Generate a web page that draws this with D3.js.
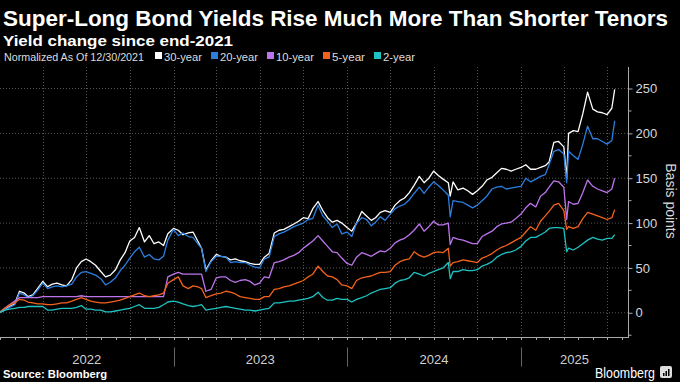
<!DOCTYPE html>
<html><head><meta charset="utf-8">
<script src="https://cdn.jsdelivr.net/npm/d3@7"></script>
<style>body{margin:0;background:#000;} svg{display:block;}</style>
</head><body>
<svg id="c" width="680" height="382"></svg>
<script>
const dates = [
"2021-12-30","2022-01-11","2022-01-21","2022-02-01","2022-02-11","2022-02-21","2022-03-01","2022-03-11","2022-03-21",
"2022-04-01","2022-04-11","2022-04-21","2022-05-01","2022-05-11","2022-05-21","2022-06-01","2022-06-11","2022-06-21",
"2022-07-01","2022-07-11","2022-07-21","2022-08-01","2022-08-11","2022-08-21","2022-09-01","2022-09-11","2022-09-21",
"2022-10-01","2022-10-11","2022-10-21","2022-11-01","2022-11-11","2022-11-21","2022-12-01","2022-12-11","2022-12-20",
"2023-01-01","2023-01-11","2023-01-21","2023-02-01","2023-02-11","2023-02-21","2023-03-01","2023-03-10","2023-03-21",
"2023-04-01","2023-04-11","2023-04-21","2023-05-01","2023-05-11","2023-05-21","2023-06-01","2023-06-11","2023-06-21",
"2023-07-01","2023-07-11","2023-07-21","2023-08-01","2023-08-11","2023-08-21","2023-09-01","2023-09-11","2023-09-21",
"2023-10-01","2023-10-11","2023-10-21","2023-11-01","2023-11-11","2023-11-21","2023-12-01","2023-12-11","2023-12-21",
"2024-01-01","2024-01-11","2024-01-21","2024-02-01","2024-02-11","2024-02-21","2024-03-01","2024-03-11","2024-03-21",
"2024-04-01","2024-04-11","2024-04-21","2024-05-01","2024-05-11","2024-05-21","2024-06-01","2024-06-11","2024-06-21",
"2024-07-01","2024-07-11","2024-07-21","2024-08-01","2024-08-05","2024-08-11","2024-08-21","2024-09-01","2024-09-11","2024-09-21",
"2024-10-01","2024-10-11","2024-10-21","2024-11-01","2024-11-11","2024-11-21","2024-12-01","2024-12-11","2024-12-21",
"2025-01-01","2025-01-11","2025-01-21","2025-02-01","2025-02-11","2025-02-21","2025-03-01","2025-03-11","2025-03-21",
"2025-04-01","2025-04-07","2025-04-11","2025-04-21","2025-05-01","2025-05-11","2025-05-21","2025-06-01","2025-06-11","2025-06-21",
"2025-07-01","2025-07-11","2025-07-17"];

const y30 = [0,3,7,10,24,22,18,20,27,35,29,32,33,31,30,37,50,57,60,57,53,46,40,42,48,59,67,80,84,95,79,86,77,79,75,88,
94,92,87,89,90,80,72,48,58,65,63,62,59,60,58,57,55,54,54,62,66,89,92,93,96,99,102,106,105,116,124,114,106,101,103,100,
95,91,100,113,108,103,106,112,114,112,120,125,128,134,142,152,145,150,158,153,149,145,130,146,137,139,136,132,136,141,148,151,156,161,160,158,160,
162,165,160,160,162,164,168,190,191,185,150,200,203,202,222,246,227,224,223,221,228,249];

const y20 = [0,3,6,9,22,20,17,19,25,33,27,29,30,29,30,32,40,45,46,44,42,38,31,34,39,47,53,61,68,73,62,65,60,59,63,81,
93,86,89,85,84,77,72,46,57,63,63,62,56,57,56,56,53,51,50,60,62,85,88,90,93,96,98,100,104,105,120,108,102,95,99,88,
90,85,100,106,104,97,101,107,103,110,116,119,121,126,133,140,133,140,146,142,137,131,107,125,124,123,120,117,120,125,130,138,140,141,138,139,140,
141,150,146,149,152,154,165,180,182,177,145,180,175,171,188,208,194,194,191,188,192,214];

const y10 = [0,5,9,13,17,17,17,17,17,18,18,18,18,18,18,18,18,19,18,18,18,18,18,18,18,18,18,18,18,18,18,18,18,18,18,40,
43,45,43,43,43,43,43,24,26,39,40,40,36,34,36,37,35,31,33,40,39,56,57,59,62,64,67,72,76,80,86,80,74,68,67,61,
55,53,62,67,65,63,66,69,68,72,78,81,83,87,92,99,91,96,102,98,98,100,76,84,82,81,79,77,77,85,88,91,96,99,100,101,105,
110,117,122,118,130,134,140,147,146,140,104,124,121,122,134,148,141,138,136,134,138,150];

const y5 = [0,5,9,11,15,14,12,11,10,10,9,9,10,11,11,13,15,17,15,13,12,11,11,12,13,14,16,18,20,22,19,18,19,20,22,33,
37,40,30,27,30,29,27,17,19,21,22,24,23,21,18,17,16,15,15,18,18,26,27,29,30,32,34,36,40,43,52,46,41,40,37,31,
30,27,36,39,40,41,43,45,45,46,53,57,59,60,68,64,62,64,67,68,67,72,52,56,57,59,58,57,56,61,63,66,70,73,75,78,81,
84,90,96,92,102,108,113,120,122,114,93,96,94,96,105,112,110,108,106,104,106,115];

const y2 = [0,3,4,5,6,6,7,7,7,7,3,3,4,5,5,5,6,8,4,4,3,3,1,1,2,3,4,5,7,9,5,5,5,6,9,12,
13,12,10,8,7,8,9,3,4,5,6,7,6,5,4,3,3,2,3,4,5,11,11,12,13,13,14,15,16,18,23,17,14,14,16,15,
15,12,15,17,19,22,24,26,27,28,33,36,37,39,45,43,41,44,46,48,50,56,38,46,46,48,47,47,48,52,54,57,62,65,67,68,70,
74,80,84,84,87,90,94,95,95,94,68,72,70,73,77,81,84,82,81,83,83,87];

const seriesNames = ["30-year","20-year","10-year","5-year","2-year"];
const seriesValues = [y30, y20, y10, y5, y2];
const seriesColors = ["#ffffff","#2b7fe0","#bc74ec","#f3621b","#1fc2c2"];
const yTicks = [0,50,100,150,200,250];
const yMinorTicks = [-25,25,75,125,175,225];
const yearLabels = ["2022","2023","2024","2025"];

const parse = d3.timeParse("%Y-%m-%d");
const dts = dates.map(parse);
const svg = d3.select("#c");
svg.append("rect").attr("width",680).attr("height",382).attr("fill","#000");

const x = d3.scaleTime().domain([new Date(2022,0,1), new Date(2025,7,14)]).range([0,628]);
const y = d3.scaleLinear().domain([-27,274]).range([337,67]);

// gridlines
const g = svg.append("g");
g.selectAll(".hg").data(yTicks).join("line")
  .attr("x1",0).attr("x2",628).attr("y1",d=>y(d)).attr("y2",d=>y(d))
  .attr("stroke","#555").attr("stroke-width",1).attr("stroke-dasharray","1,2");
const quarters = d3.timeMonth.every(3).range(new Date(2022,0,1), new Date(2025,7,14));
g.selectAll(".vg").data(quarters.slice(1)).join("line")
  .attr("x1",d=>Math.round(x(d))+0.5).attr("x2",d=>Math.round(x(d))+0.5).attr("y1",67).attr("y2",337)
  .attr("stroke","#555").attr("stroke-width",1).attr("stroke-dasharray","1,2");

// lines
const clip = svg.append("clipPath").attr("id","pc").append("rect").attr("x",0).attr("y",60).attr("width",628).attr("height",280);
const line = d3.line().x(d=>x(d[0])).y(d=>y(d[1])).curve(d3.curveLinear);
const order = [0,1,2,3,4];
order.forEach(i=>{
  const pts = dts.map((d,j)=>[d, seriesValues[i][j]]);
  svg.append("path").attr("d", line(pts)).attr("fill","none")
    .attr("stroke", seriesColors[i]).attr("stroke-width",1.3)
    .attr("stroke-linejoin","round").attr("clip-path","url(#pc)");
});

// right axis
const yAxis = d3.axisRight(y).tickValues(yTicks).tickSize(4).tickPadding(3);
const ya = svg.append("g").attr("transform","translate(628.5,0)").call(yAxis);
ya.select(".domain").attr("stroke","#aaa").attr("d","M0,67V337");
ya.selectAll(".tick line").attr("stroke","#aaa");
ya.selectAll(".tick text").attr("fill","#d8d8d8").attr("font-family","Liberation Sans, Arial, sans-serif").attr("font-size",13);
svg.append("g").selectAll("line").data(yMinorTicks).join("line")
  .attr("x1",628.5).attr("x2",631.5).attr("y1",d=>y(d)).attr("y2",d=>y(d)).attr("stroke","#aaa");
svg.append("text").attr("transform","translate(666,201) rotate(90)")
  .attr("text-anchor","middle").attr("fill","#d8d8d8")
  .attr("font-family","Liberation Sans, Arial, sans-serif").attr("font-size",14).text("Basis points");

// bottom axis
const xa = svg.append("g").attr("transform","translate(0,337.5)");
xa.append("line").attr("x1",0).attr("x2",629).attr("y1",0).attr("y2",0).attr("stroke","#aaa");
const months = d3.timeMonth.range(new Date(2022,0,1), new Date(2025,7,14));
xa.selectAll(".mt").data(months).join("line")
  .attr("x1",d=>Math.round(x(d))+0.5).attr("x2",d=>Math.round(x(d))+0.5).attr("y1",0).attr("y2",2.5).attr("stroke","#aaa");
const yearStarts = yearLabels.map(s=>new Date(+s,0,1));
const xEnd = x.range()[1];
xa.selectAll(".yl").data(yearLabels).join("text")
  .attr("x",(d,i)=>{const a=x(yearStarts[i]); const b=i<yearStarts.length-1?x(yearStarts[i+1]):xEnd; return (a+b)/2;})
  .attr("y",26).attr("text-anchor","middle").attr("fill","#d0d0d0")
  .attr("font-family","Liberation Sans, Arial, sans-serif").attr("font-size",13).text(d=>d);
xa.selectAll(".yd").data(yearStarts.slice(1)).join("line")
  .attr("x1",d=>Math.round(x(d))+0.5).attr("x2",d=>Math.round(x(d))+0.5).attr("y1",10).attr("y2",29).attr("stroke","#666");

// title
svg.append("text").attr("x",3).attr("y",26).attr("fill","#fff").attr("font-weight","bold")
  .attr("font-family","Liberation Sans, Arial, sans-serif").attr("font-size",22)
  .attr("textLength",665).attr("lengthAdjust","spacingAndGlyphs")
  .text("Super-Long Bond Yields Rise Much More Than Shorter Tenors");
svg.append("text").attr("x",3).attr("y",46).attr("fill","#fff").attr("font-weight","bold")
  .attr("font-family","Liberation Sans, Arial, sans-serif").attr("font-size",15)
  .attr("textLength",230).attr("lengthAdjust","spacingAndGlyphs")
  .text("Yield change since end-2021");

// legend
const lg = svg.append("g").attr("font-family","Liberation Sans, Arial, sans-serif").attr("font-size",11).attr("fill","#ddd");
lg.append("text").attr("x",4).attr("y",61).attr("textLength",140).attr("lengthAdjust","spacingAndGlyphs").text("Normalized As Of 12/30/2021");
const legX = [155,211,267,323,374];
const legW = [38,38,38,33,32];
seriesNames.forEach((n,i)=>{
  lg.append("rect").attr("x",legX[i]).attr("y",52).attr("width",7).attr("height",7).attr("fill",seriesColors[i]);
  lg.append("text").attr("x",legX[i]+9).attr("y",61).attr("textLength",legW[i]).attr("lengthAdjust","spacingAndGlyphs").text(n);
});

// footer
svg.append("text").attr("x",3).attr("y",378).attr("fill","#fff").attr("font-weight","bold")
  .attr("font-family","Liberation Sans, Arial, sans-serif").attr("font-size",11)
  .attr("textLength",104).attr("lengthAdjust","spacingAndGlyphs").text("Source: Bloomberg");
svg.append("text").attr("x",655).attr("y",378).attr("text-anchor","end").attr("fill","#fff")
  .attr("font-family","Liberation Sans, Arial, sans-serif").attr("font-size",14)
  .attr("textLength",60).attr("lengthAdjust","spacingAndGlyphs").text("Bloomberg");
const logo = svg.append("g").attr("transform","translate(660,366)");
logo.append("rect").attr("width",12).attr("height",12).attr("rx",2).attr("fill","#ddd");
[[3,7,1.5,3],[5.5,5,1.5,5],[8,3,1.5,7]].forEach(b=>logo.append("rect").attr("x",b[0]).attr("y",b[1]).attr("width",b[2]).attr("height",b[3]).attr("fill","#000"));
</script>
</body></html>
